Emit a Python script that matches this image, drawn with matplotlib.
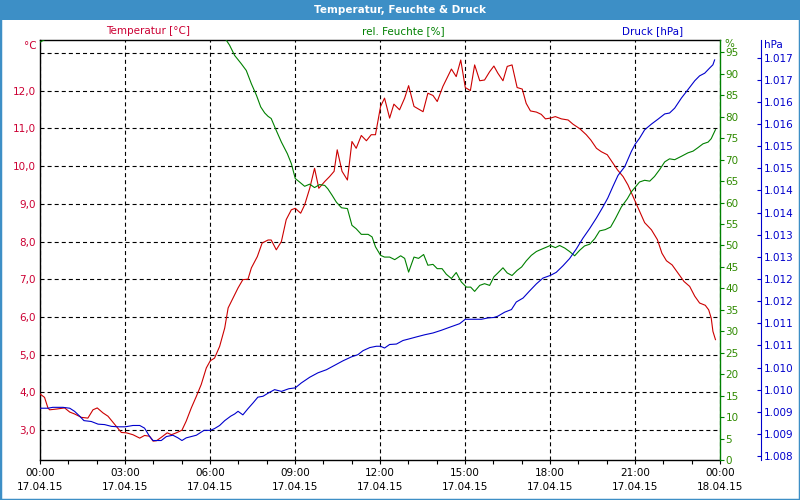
import numpy as np
import matplotlib
matplotlib.use("Agg")
import matplotlib.pyplot as plt
from matplotlib.ticker import MultipleLocator, FixedLocator, FuncFormatter
from matplotlib.patches import Rectangle

temp_h = [0, 0.16, 0.28, 0.34, 0.58, 0.87, 1.05, 1.22, 1.46, 1.69, 1.87, 2.02, 2.22, 2.40,
          2.64, 2.87, 3.05, 3.28, 3.52, 3.69, 3.87, 3.99, 4.11, 4.28, 4.49, 4.64, 4.81, 5.01,
          5.16, 5.34, 5.52, 5.69, 5.87, 6.01, 6.16, 6.34, 6.52, 6.64, 6.81, 6.99, 7.16, 7.34,
          7.46, 7.67, 7.84, 8.05, 8.16, 8.34, 8.52, 8.69, 8.87, 9.01, 9.20, 9.34, 9.52, 9.69,
          9.84, 10.05, 10.22, 10.38, 10.49, 10.66, 10.85, 11.01, 11.16, 11.34, 11.52, 11.69,
          11.84, 12.02, 12.16, 12.34, 12.49, 12.69, 12.87, 13.01, 13.20, 13.52, 13.69, 13.87,
          14.02, 14.22, 14.52, 14.69, 14.85, 15.01, 15.19, 15.34, 15.52, 15.69, 15.87, 16.02,
          16.16, 16.34, 16.49, 16.66, 16.84, 17.02, 17.16, 17.31, 17.52, 17.69, 17.84, 18.01,
          18.19, 18.40, 18.64, 18.81, 19.05, 19.28, 19.44, 19.64, 19.81, 20.02, 20.20, 20.38,
          20.58, 20.75, 21.01, 21.16, 21.34, 21.58, 21.79, 21.95, 22.11, 22.31, 22.52, 22.73,
          22.93, 23.11, 23.28, 23.48, 23.60, 23.69, 23.75, 23.84]
temp_c = [3.96, 3.87, 3.59, 3.54, 3.56, 3.59, 3.48, 3.43, 3.34, 3.32, 3.54, 3.59, 3.46, 3.37,
          3.15, 2.94, 2.93, 2.88, 2.79, 2.86, 2.84, 2.71, 2.72, 2.81, 2.93, 2.88, 2.93, 3.00,
          3.24, 3.59, 3.90, 4.21, 4.65, 4.84, 4.91, 5.22, 5.71, 6.24, 6.50, 6.77, 6.99, 7.00,
          7.30, 7.60, 7.96, 8.04, 8.04, 7.78, 8.00, 8.58, 8.84, 8.88, 8.75, 8.97, 9.41, 9.94,
          9.41, 9.59, 9.72, 9.86, 10.43, 9.86, 9.63, 10.65, 10.47, 10.81, 10.67, 10.83,
          10.83, 11.58, 11.80, 11.27, 11.64, 11.49, 11.80, 12.13, 11.58, 11.44, 11.93, 11.87,
          11.71, 12.11, 12.57, 12.37, 12.81, 12.08, 12.00, 12.68, 12.26, 12.28, 12.50, 12.65,
          12.46, 12.26, 12.64, 12.68, 12.08, 12.04, 11.66, 11.46, 11.43, 11.37, 11.25, 11.27,
          11.31, 11.25, 11.22, 11.11, 10.99, 10.83, 10.69, 10.47, 10.38, 10.30, 10.10, 9.90,
          9.72, 9.50, 9.06, 8.80, 8.50, 8.31, 8.05, 7.69, 7.49, 7.38, 7.16, 6.94,
          6.81, 6.55, 6.37, 6.31, 6.19, 5.97, 5.62, 5.40]

feuchte_h = [0, 0.22, 1.0, 3.0, 5.5, 6.3, 6.54, 6.69, 6.87, 7.10, 7.28, 7.46, 7.64, 7.79, 7.93,
             8.05, 8.16, 8.34, 8.52, 8.73, 8.87, 9.01, 9.16, 9.34, 9.52, 9.69, 9.87, 10.05,
             10.16, 10.31, 10.46, 10.64, 10.85, 11.01, 11.16, 11.34, 11.58, 11.72, 11.84, 12.02,
             12.16, 12.34, 12.52, 12.73, 12.87, 13.01, 13.20, 13.36, 13.54, 13.69, 13.87, 14.02,
             14.19, 14.34, 14.52, 14.69, 14.87, 15.05, 15.20, 15.34, 15.52, 15.69, 15.87, 16.02,
             16.16, 16.34, 16.49, 16.66, 16.84, 17.00, 17.16, 17.34, 17.52, 17.69, 17.87, 18.01,
             18.19, 18.34, 18.52, 18.69, 18.87, 19.05, 19.22, 19.40, 19.58, 19.75, 19.95, 20.14,
             20.31, 20.52, 20.73, 20.87, 21.01, 21.16, 21.34, 21.52, 21.69, 21.87, 22.05, 22.22,
             22.40, 22.64, 22.87, 23.05, 23.22, 23.40, 23.58, 23.69, 23.84]
feuchte_pct = [97.4, 98.2, 99.5, 100, 100, 99.3, 98.2, 96.7, 94.3, 92.4, 90.8, 87.7, 85.0, 82.3, 80.9,
               80.1, 79.6, 76.8, 74.1, 71.4, 69.1, 65.6, 64.8, 63.8, 64.3, 63.5, 64.2, 64.0,
               63.2, 61.7, 60.1, 58.8, 58.6, 54.7, 53.9, 52.6, 52.6, 52.0, 49.7, 47.7,
               47.3, 47.3, 46.7, 47.6, 47.0, 43.8, 47.3, 47.0, 47.9, 45.4, 45.6, 44.6,
               44.6, 43.3, 42.3, 43.7, 41.5, 40.3, 40.3, 39.3, 40.7, 41.1, 40.7, 42.7,
               43.6, 44.8, 43.6, 43.0, 44.2, 45.0, 46.4, 47.7, 48.6, 49.1, 49.6, 50.0,
               49.5, 50.0, 49.4, 48.6, 47.6, 48.9, 49.9, 50.3, 51.6, 53.4, 53.7, 54.3,
               56.3, 59.0, 60.9, 62.5, 63.6, 64.8, 65.2, 65.0, 66.1, 67.7, 69.5, 70.2,
               70.0, 70.8, 71.6, 72.0, 72.8, 73.7, 74.1, 74.9, 77.0]

druck_h = [0, 0.28, 0.45, 0.81, 1.05, 1.22, 1.40, 1.55, 1.81, 2.05, 2.28, 2.52, 2.75, 3.01,
           3.28, 3.52, 3.69, 3.87, 3.99, 4.28, 4.46, 4.69, 4.87, 5.01, 5.16, 5.34, 5.52, 5.69,
           5.79, 6.01, 6.16, 6.34, 6.52, 6.73, 6.87, 6.99, 7.16, 7.34, 7.52, 7.69, 7.87, 8.05,
           8.28, 8.52, 8.78, 9.01, 9.22, 9.52, 9.81, 10.11, 10.40, 10.69, 10.99, 11.22, 11.40,
           11.64, 11.87, 12.02, 12.16, 12.34, 12.58, 12.81, 13.05, 13.28, 13.58, 13.87, 14.16,
           14.46, 14.81, 15.01, 15.28, 15.58, 15.81, 16.02, 16.16, 16.40, 16.64, 16.81, 17.05,
           17.28, 17.52, 17.75, 18.01, 18.22, 18.46, 18.69, 18.93, 19.16, 19.40, 19.64, 19.86,
           20.04, 20.22, 20.40, 20.64, 20.87, 21.01, 21.16, 21.34, 21.58, 21.81, 22.05, 22.22,
           22.40, 22.64, 22.87, 23.11, 23.28, 23.46, 23.64, 23.75, 23.81]
druck_hpa = [1009.08, 1009.08, 1009.10, 1009.10, 1009.08, 1009.01, 1008.90, 1008.80, 1008.78,
             1008.72, 1008.71, 1008.67, 1008.66, 1008.66, 1008.69, 1008.69, 1008.63, 1008.44,
             1008.35, 1008.35, 1008.44, 1008.47, 1008.41, 1008.35, 1008.41, 1008.44, 1008.47,
             1008.54, 1008.58, 1008.58, 1008.62, 1008.69, 1008.80, 1008.90, 1008.95, 1009.01,
             1008.93, 1009.07, 1009.20, 1009.33, 1009.35, 1009.42, 1009.50, 1009.46, 1009.52,
             1009.54, 1009.65, 1009.78, 1009.88, 1009.95, 1010.05, 1010.15, 1010.24, 1010.29,
             1010.38, 1010.45, 1010.48, 1010.48, 1010.44, 1010.52, 1010.53, 1010.61, 1010.65,
             1010.69, 1010.74, 1010.78, 1010.84, 1010.91, 1010.99, 1011.09, 1011.09, 1011.09,
             1011.12, 1011.13, 1011.16, 1011.25, 1011.31, 1011.48, 1011.57, 1011.73, 1011.89,
             1012.02, 1012.08, 1012.15, 1012.30, 1012.46, 1012.68, 1012.92, 1013.14, 1013.38,
             1013.62, 1013.83, 1014.09, 1014.34, 1014.54, 1014.88, 1015.05, 1015.18, 1015.37,
             1015.50, 1015.61, 1015.73, 1015.75, 1015.86, 1016.09, 1016.28, 1016.48, 1016.59,
             1016.65, 1016.77, 1016.84, 1016.95]

zeit_ticks = [0, 3, 6, 9, 12, 15, 18, 21, 24]
zeit_labels = ["00:00\n17.04.15", "03:00\n17.04.15", "06:00\n17.04.15", "09:00\n17.04.15",
               "12:00\n17.04.15", "15:00\n17.04.15", "18:00\n17.04.15", "21:00\n17.04.15",
               "00:00\n18.04.15"]

ROT, ROT_TXT = "#cc0000", "#cc0033"
GRUEN, GRUEN_TXT = "#008000", "#2f8a00"
BLAU = "#0000cc"
BALKEN = "#3d8fc6"

plt.rcParams['font.family'] = ['DejaVu Sans']
plt.rcParams['lines.scale_dashes'] = False
fs = 7.5
strich = (0, (2.9, 2.2))

fig = plt.figure(figsize=(8, 5), dpi=100)
ax = fig.add_axes([40 / 800, 40 / 500, 680 / 800, 420 / 500])
ax_f = ax.twinx()
ax_p = ax.twinx()

# Temperatur
ax.plot(temp_h, temp_c, color=ROT, lw=0.8, zorder=3)
ax.set_xlim(0, 24)
ax.set_ylim(2.21, 13.34)
ax.yaxis.set_major_locator(FixedLocator(np.arange(3, 14)))
ax.yaxis.set_major_formatter(FuncFormatter(
    lambda v, p: "" if v > 12.5 else f"{v:.1f}".replace(".", ",")))
ax.tick_params(axis="y", length=0, pad=3, labelcolor=ROT_TXT, labelsize=fs)
ax.xaxis.set_major_locator(FixedLocator(zeit_ticks))
ax.xaxis.set_minor_locator(MultipleLocator(1))
ax.set_xticklabels(zeit_labels, fontsize=fs, linespacing=1.5)
ax.tick_params(axis="x", which="both", direction="out", length=3, width=0.8, pad=3)
ax.grid(True, which="major", color="black", linestyle=strich, linewidth=0.8)
for s in ["left", "top", "bottom"]:
    ax.spines[s].set_linewidth(1.0)
ax.spines["right"].set_visible(False)

# Feuchte
ax_f.plot(feuchte_h, feuchte_pct, color=GRUEN, lw=0.8)
ax_f.set_ylim(0, 97.9)
ax_f.yaxis.set_major_locator(FixedLocator(np.arange(0, 100, 5)))
ax_f.tick_params(axis="y", direction="out", length=3, width=0.8, color=GRUEN,
                 labelcolor=GRUEN_TXT, labelsize=fs, pad=1)
for s in ["left", "top", "bottom"]:
    ax_f.spines[s].set_visible(False)
ax_f.spines["right"].set_color(GRUEN)
ax_f.spines["right"].set_linewidth(1.0)

# Druck
ax_p.plot(druck_h, druck_hpa, color=BLAU, lw=0.8)
ax_p.set_ylim(1007.91, 1017.40)
ax_p.yaxis.set_major_locator(FixedLocator(np.arange(1008, 1017.01, 0.5)))
ax_p.yaxis.set_major_formatter(FuncFormatter(
    lambda v, p: f"{int(np.floor(v + 0.5)) / 1000:.3f}"))
ax_p.spines["right"].set_position(("axes", (761 - 40) / 680))
ax_p.spines["right"].set_color(BLAU)
ax_p.spines["right"].set_linewidth(0.8)
for s in ["left", "top", "bottom"]:
    ax_p.spines[s].set_visible(False)
ax_p.tick_params(axis="y", direction="in", length=3, width=0.8, color=BLAU,
                 labelcolor=BLAU, labelsize=fs, pad=2)

# Einheiten und Überschriften
fig.text(37 / 800, 1 - 46 / 500, "°C", color=ROT_TXT, fontsize=fs, ha="right", va="center")
fig.text(724 / 800, 1 - 44 / 500, "%", color=GRUEN_TXT, fontsize=fs, ha="left", va="center")
fig.text(764 / 800, 1 - 45 / 500, "hPa", color=BLAU, fontsize=fs, ha="left", va="center")
fig.text(148 / 800, 1 - 31 / 500, "Temperatur [°C]", color=ROT_TXT, fontsize=fs, ha="center", va="center")
fig.text(403 / 800, 1 - 31 / 500, "rel. Feuchte [%]", color=GRUEN, fontsize=fs, ha="center", va="center")
fig.text(653 / 800, 1 - 31 / 500, "Druck [hPa]", color=BLAU, fontsize=fs, ha="center", va="center")

# Titelleiste und Rahmen
fig.patches.append(Rectangle((0, 1 - 20 / 500), 1, 20 / 500, transform=fig.transFigure,
                             facecolor=BALKEN, edgecolor="none", zorder=0))
fig.patches.append(Rectangle((0, 0), 1, 1, transform=fig.transFigure, fill=False,
                             edgecolor=BALKEN, linewidth=2.5, zorder=0))
fig.text(0.5, 1 - 10 / 500, "Temperatur, Feuchte & Druck", color="white", fontsize=7.5,
         fontweight="bold", ha="center", va="center")

fig.savefig("out.png", dpi=100)
